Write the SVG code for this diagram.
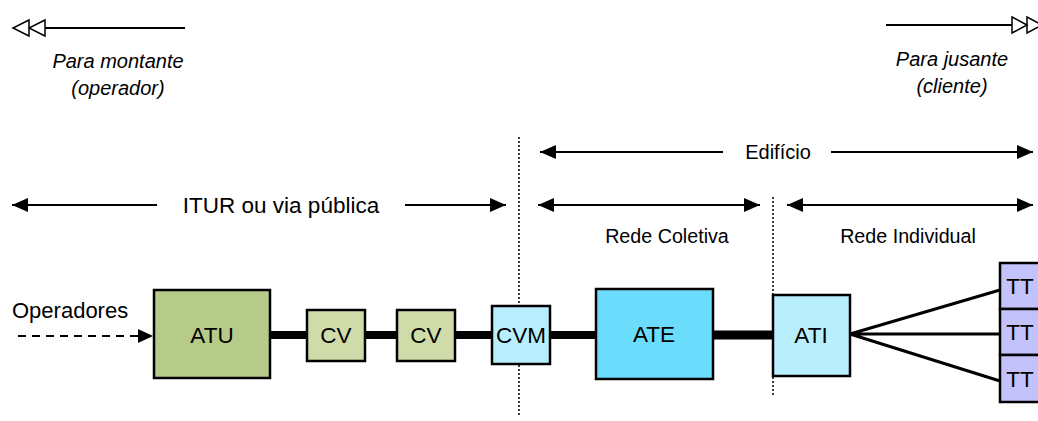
<svg xmlns="http://www.w3.org/2000/svg" width="1038" height="421" viewBox="0 0 1038 421">
<defs>
<style>
text{font-family:"Liberation Sans",Arial,sans-serif;fill:#000}
.it{font-style:italic;font-size:20px;text-anchor:middle}
.lbl{font-size:22.5px;text-anchor:middle}
.box{stroke:#000;stroke-width:2.5}
.thin{stroke:#000;stroke-width:2;fill:none}
.dot{stroke:#000;stroke-width:1.5;stroke-dasharray:2,2;fill:none}
</style>
<marker id="big" markerWidth="16" markerHeight="14" refX="16" refY="7" orient="auto-start-reverse" markerUnits="userSpaceOnUse" viewBox="0 0 16 14">
<path d="M0,0 L16,7 L0,14 z" fill="#000"/>
</marker>
</defs>

<g id="legend-up">
<path d="M185,28 H45" class="thin"/>
<path d="M45,20 L29,28 L45,36 z M29,20 L13,28 L29,36 z" fill="#fff" stroke="#000" stroke-width="1.5"/>
<text class="it" x="118" y="68">Para montante</text>
<text class="it" x="118" y="95">(operador)</text>
</g>
<g id="legend-down">
<path d="M886,25 H1012" class="thin"/>
<path d="M1012,17 L1027,25 L1012,33 z M1027,17 L1042,25 L1027,33 z" fill="#fff" stroke="#000" stroke-width="1.5"/>
<text class="it" x="952" y="66">Para jusante</text>
<text class="it" x="952" y="93">(cliente)</text>
</g>

<g id="dividers">
<path d="M519,137 V415" class="dot"/>
<path d="M773,197 V395" class="dot"/>
</g>

<g id="ranges">
<path d="M723,152 H540" class="thin" marker-end="url(#big)"/>
<path d="M831,152 H1033" class="thin" marker-end="url(#big)"/>
<text x="778" y="159" font-size="20" text-anchor="middle">Edifício</text>
<path d="M157,205 H12" class="thin" marker-end="url(#big)"/>
<path d="M405,205 H506" class="thin" marker-end="url(#big)"/>
<text x="281" y="213" font-size="22.5" text-anchor="middle">ITUR ou via pública</text>
<path d="M538,205 H760" class="thin" marker-start="url(#big)" marker-end="url(#big)"/>
<text x="667" y="243" font-size="19.7" text-anchor="middle">Rede Coletiva</text>
<path d="M787,205 H1033" class="thin" marker-start="url(#big)" marker-end="url(#big)"/>
<text x="908" y="243" font-size="19.7" text-anchor="middle">Rede Individual</text>
</g>

<g id="connectors">
<path d="M270,335 H596" stroke="#000" stroke-width="8"/>
<path d="M713,335 H773" stroke="#000" stroke-width="9"/>
<path d="M850,334 L1000,290 M850,334 H1000 M850,334 L1000,381" stroke="#000" stroke-width="3" fill="none"/>
<path d="M18,336 H138" stroke="#000" stroke-width="2" stroke-dasharray="8,6"/>
<path d="M138,329 L153,336 L138,343 z" fill="#000"/>
<text x="12" y="318" font-size="22">Operadores</text>
</g>

<g id="ATU"><rect x="154" y="290" width="116" height="88" fill="#b6cb8a" class="box"/><text class="lbl" x="212" y="343">ATU</text></g>
<g id="CV1"><rect x="307" y="310" width="58" height="51" fill="#cfdcaa" class="box" stroke-width="2"/><text class="lbl" x="336" y="343">CV</text></g>
<g id="CV2"><rect x="397" y="310" width="58" height="51" fill="#cfdcaa" class="box" stroke-width="2"/><text class="lbl" x="426" y="343">CV</text></g>
<g id="CVM"><rect x="492" y="306" width="58" height="58" fill="#b8eefd" class="box" stroke-width="2"/><text class="lbl" x="521" y="343">CVM</text></g>
<g id="ATE"><rect x="596" y="289" width="117" height="90" fill="#6cdcfc" class="box" stroke-width="3"/><text class="lbl" x="654" y="342">ATE</text></g>
<g id="ATI"><rect x="773" y="295" width="77" height="81" fill="#b9eefc" class="box" stroke-width="2"/><text class="lbl" x="811" y="343">ATI</text></g>
<g id="TT1"><rect x="1000" y="263" width="42" height="46" fill="#c4c2fb" class="box" stroke-width="2"/><text class="lbl" x="1020" y="294">TT</text></g>
<g id="TT2"><rect x="1000" y="309" width="42" height="46" fill="#c4c2fb" class="box" stroke-width="2"/><text class="lbl" x="1020" y="340">TT</text></g>
<g id="TT3"><rect x="1000" y="355" width="42" height="47" fill="#c4c2fb" class="box" stroke-width="2"/><text class="lbl" x="1020" y="387">TT</text></g>
</svg>
